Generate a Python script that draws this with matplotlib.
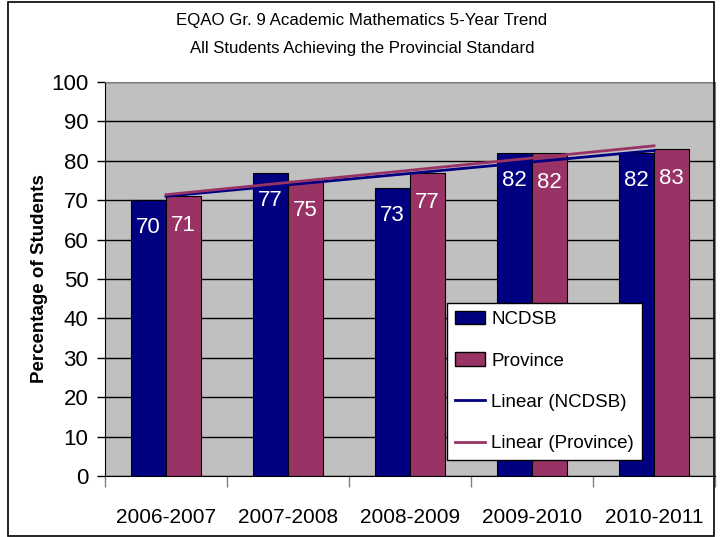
import numpy as np
import matplotlib
matplotlib.use("Agg")
import matplotlib.pyplot as plt
from matplotlib.patches import Rectangle, Patch
from matplotlib.lines import Line2D

years = ["2006-2007", "2007-2008", "2008-2009", "2009-2010", "2010-2011"]
ncdsb = [70, 77, 73, 82, 82]
province = [71, 75, 77, 82, 83]
yticks = [0, 10, 20, 30, 40, 50, 60, 70, 80, 90, 100]

NAVY = "#000080"
PLUM = "#993366"
GREY = "#C0C0C0"
FONT = ["Liberation Sans", "DejaVu Sans"]
plt.rcParams['font.family'] = FONT

fig = plt.figure(figsize=(7.24, 5.37), dpi=100)
ax = fig.add_axes([105/724, 1-476/537, 610/724, 394/537])
ax.set_facecolor(GREY)

x = np.arange(len(years))
w = 0.29
ax.set_axisbelow(True)
ax.yaxis.grid(True, color="black", linewidth=1)
ax.bar(x - w/2, ncdsb, w, color=NAVY, edgecolor="black", linewidth=0.8, zorder=2)
ax.bar(x + w/2, province, w, color=PLUM, edgecolor="black", linewidth=0.8, zorder=2)

for xi, v in zip(x - w/2, ncdsb):
    ax.text(xi, v - 7, str(v), color="white", ha="center", va="center", fontsize=16, zorder=3)
for xi, v in zip(x + w/2, province):
    ax.text(xi, v - 7.5, str(v), color="white", ha="center", va="center", fontsize=16, zorder=3)

# linear trendlines
for vals, col in ((ncdsb, NAVY), (province, PLUM)):
    m, c = np.polyfit(x, vals, 1)
    ax.plot([x[0], x[-1]], [m*x[0]+c, m*x[-1]+c], color=col, linewidth=2, zorder=4)

ax.set_xlim(-0.5, len(years) - 0.5)
ax.set_ylim(0, 100)
ax.set_yticks(yticks)
ax.tick_params(axis="y", direction="out", length=6, width=1, labelsize=16, pad=6)
ax.set_xticks(np.arange(-0.5, len(years), 1.0))
ax.set_xticklabels([])
ax.set_xticks(x, minor=True)
ax.set_xticklabels(years, minor=True)
ax.tick_params(axis="x", which="major", direction="out", length=8, width=1, color="#808080")
ax.tick_params(axis="x", which="minor", length=0, labelsize=15, pad=23)

for s in ("top", "right"):
    ax.spines[s].set_color("#808080")
ax.spines["left"].set_color("black")
ax.spines["bottom"].set_color("black")

ax.set_ylabel("Percentage of Students", fontsize=13.5, fontweight="bold")
ax.yaxis.set_label_coords(-57/610, 0.5)

handles = [Patch(facecolor=NAVY, edgecolor="black", label="NCDSB"),
           Patch(facecolor=PLUM, edgecolor="black", label="Province"),
           Line2D([], [], color=NAVY, linewidth=2, label="Linear (NCDSB)"),
           Line2D([], [], color=PLUM, linewidth=2, label="Linear (Province)")]
leg = ax.legend(handles=handles, loc="lower left", bbox_to_anchor=((447-105)/610, (476-460)/394),
                fontsize=13.5, frameon=True, fancybox=False, framealpha=1,
                edgecolor="black", borderaxespad=0, handlelength=1.65, labelspacing=1.3,
                handletextpad=0.32, borderpad=0.4)
leg.get_frame().set_linewidth(1)
leg.set_zorder(5)

fig.text(0.5, 1-20/537, "EQAO Gr. 9 Academic Mathematics 5-Year Trend",
         ha="center", va="center", fontsize=12.2)
fig.text(0.5, 1-48/537, "All Students Achieving the Provincial Standard",
         ha="center", va="center", fontsize=12.1)

fig.patches.append(Rectangle((8/724, 1/537), 706/724, 534/537, transform=fig.transFigure,
                             fill=False, edgecolor="black", linewidth=1.2))

fig.savefig("out.png", dpi=100)
